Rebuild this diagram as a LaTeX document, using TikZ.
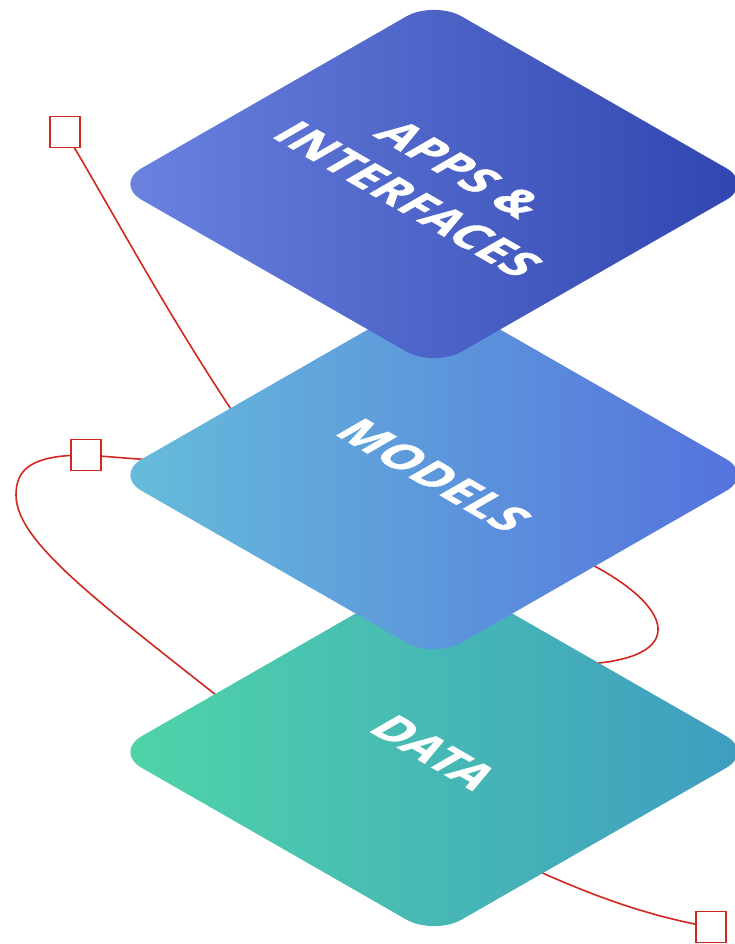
\documentclass[tikz,border=0pt]{standalone}
\usepackage{fontspec}
\newfontfamily\layerfont{Open Sans}[LetterSpace=2,BoldFeatures={FakeBold=1.2}]
\usetikzlibrary{shapes.geometric,backgrounds}
\definecolor{appsL}{HTML}{6B83E1}
\definecolor{appsR}{HTML}{2F44AE}
\definecolor{modelsL}{HTML}{66BEDA}
\definecolor{modelsR}{HTML}{5470DD}
\definecolor{dataL}{HTML}{4FD5A8}
\definecolor{dataR}{HTML}{3E9CC1}
\definecolor{linkred}{HTML}{D0281E}
\begin{document}
\begin{tikzpicture}[x=1pt,y=-1pt]
    \tikzstyle{layer}=[diamond,aspect=1.74,minimum width=640pt,minimum height=367pt,inner sep=0pt,rounded corners=32pt]
    \tikzstyle{caption}=[text=white,font=\layerfont\bfseries\fontsize{47}{60}\selectfont,align=center,cm={0.866,-0.5,0.866,0.5,(0,0)}]
    \tikzstyle{handle}=[draw=linkred,fill=white,line width=1.8pt,minimum width=30pt,minimum height=31pt,inner sep=0pt]
    \tikzstyle{link}=[draw=linkred,line width=1.6pt]
    \useasboundingbox (0,0) rectangle (735,944);

      \node (data) at (434,752) [layer,left color=dataL,right color=dataR] {};
      \node (models) at (434,475) [layer,left color=modelsL,right color=modelsR] {};
      \node (apps) at (434,184) [layer,left color=appsL,right color=appsR] {};

      \node (dataText) at (data.center) [caption] {DATA};
      \node (modelsText) at (models.center) [caption] {MODELS};
      \node (appsText) at (apps.center) [caption] {APPS \&\\INTERFACES};

      \node (sq1) at (65,132) [handle] {};
      \node (sq2) at (86,455) [handle] {};
      \node (sq4) at (711,927) [handle] {};

      \coordinate (m1) at (262,455);
      \coordinate (m2) at (190,463);
      \coordinate (m3) at (560,550);
      \coordinate (d1) at (260,730);
      \coordinate (d2) at (560,665);
      \coordinate (d3) at (490,848);

    \begin{scope}[on background layer]
      \path[link] (sq1.center) .. controls (115,215) and (175,330) .. (m1);
      \path[link] (sq2.center) -- (m2);
      \path[link] (sq2.center) .. controls (30,455) and (16,470) .. (16,495)
                               .. controls (16,545) and (110,610) .. (d1);
      \path[link] (m3) .. controls (670,595) and (710,665) .. (d2);
      \path[link] (sq4.center) .. controls (640,915) and (570,888) .. (d3);
    \end{scope}
  \end{tikzpicture}
\end{document}
